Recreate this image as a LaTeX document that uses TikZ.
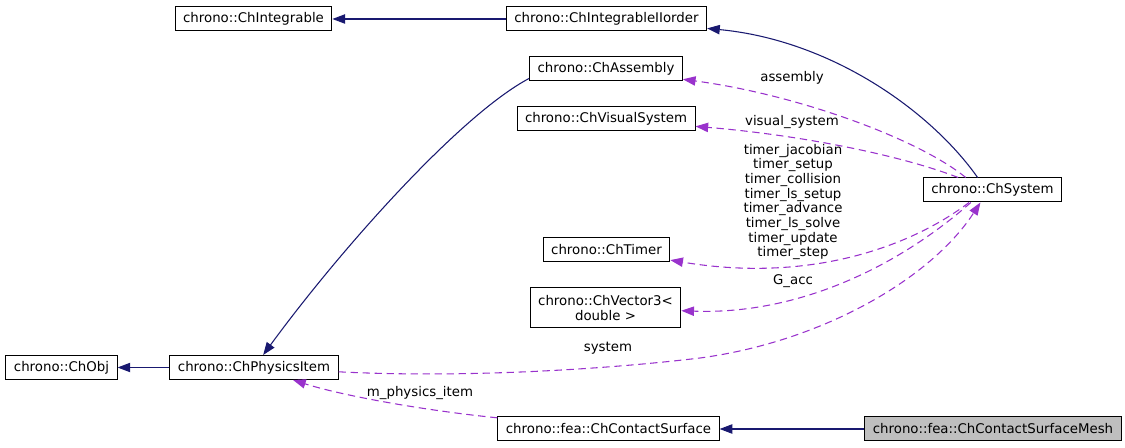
\documentclass[tikz,border=0pt]{standalone}
\usepackage{fontspec}
\setmainfont{DejaVu Sans}
\usepackage{xcolor}
\usetikzlibrary{arrows.meta}

\definecolor{inhblue}{RGB}{25,25,112}
\definecolor{usepurple}{RGB}{153,50,204}
\definecolor{focusgray}{RGB}{191,191,191}

\begin{document}
\begin{tikzpicture}[
    x=0.75pt, y=-0.75pt,
    font=\fontsize{10}{11}\selectfont,
    cls/.style={draw, line width=0.75pt, fill=white, inner xsep=6pt, inner ysep=0pt, minimum height=18pt, align=center},
    focus/.style={cls, fill=focusgray},
    inh/.style={-{Triangle[length=9.5pt, width=7pt]}, line width=0.8pt, draw=inhblue},
    usage/.style={-{Triangle[length=9.5pt, width=7pt]}, line width=0.8pt, draw=usepurple, dash pattern=on 5.5pt off 3.5pt},
    elabel/.style={align=center, inner sep=0pt},
]
\useasboundingbox (0,0) rectangle (1125,448);

% Classes
\node[cls] (integrable) at (253.5,19) {chrono::ChIntegrable};
\node[cls] (iiorder) at (606.5,19) {chrono::ChIntegrableIIorder};
\node[cls] (assembly) at (606,69) {chrono::ChAssembly};
\node[cls] (visual) at (606,119) {chrono::ChVisualSystem};
\node[cls] (system) at (992.5,190) {chrono::ChSystem};
\node[cls] (timer) at (606.5,249.5) {chrono::ChTimer};
\node[cls, minimum height=30pt] (vector) at (605.5,308) {chrono::ChVector3<\\double >};
\node[cls] (chobj) at (61.5,367.5) {chrono::ChObj};
\node[cls] (physics) at (254,367.5) {chrono::ChPhysicsItem};
\node[cls] (surface) at (608.5,429) {chrono::fea::ChContactSurface};
\node[focus] (mesh) at (993,429) {chrono::fea::ChContactSurfaceMesh};

% Inheritance
\draw[inh] (iiorder) -- (integrable);
\draw[inh] (system.140) .. controls (930,110) and (830,40) .. (iiorder);
\draw[inh] (assembly.187) .. controls (460,115) and (340,250) .. (physics);
\draw[inh] (physics) -- (chobj);
\draw[inh] (mesh) -- (surface);

% Usage
\draw[usage] (system.155) .. controls (920,140) and (800,95) .. (assembly);
\draw[usage] (system.160) .. controls (900,155) and (800,135) .. (visual);
\draw[usage] (system.208) .. controls (920,240) and (820,285) .. (timer);
\draw[usage] (system.210) .. controls (900,265) and (800,315) .. (vector);
\draw[usage] (physics) .. controls (460,378) and (600,370) .. (700,358)
    .. controls (820,342) and (930,280) .. (system.226);
\draw[usage] (surface) .. controls (420,410) and (340,395) .. (physics);

% Edge labels
\node[elabel] (l-assembly) at (792,78) {assembly};
\node[elabel] (l-visual) at (792,122) {visual\_system};
\node[elabel] (l-timer) at (793,202) {timer\_jacobian\\timer\_setup\\timer\_collision\\timer\_ls\_setup\\timer\_advance\\timer\_ls\_solve\\timer\_update\\timer\_step};
\node[elabel] (l-gacc) at (793,281) {G\_acc};
\node[elabel] (l-system) at (608,348) {system};
\node[elabel] (l-item) at (420,393) {m\_physics\_item};

\end{tikzpicture}
\end{document}
